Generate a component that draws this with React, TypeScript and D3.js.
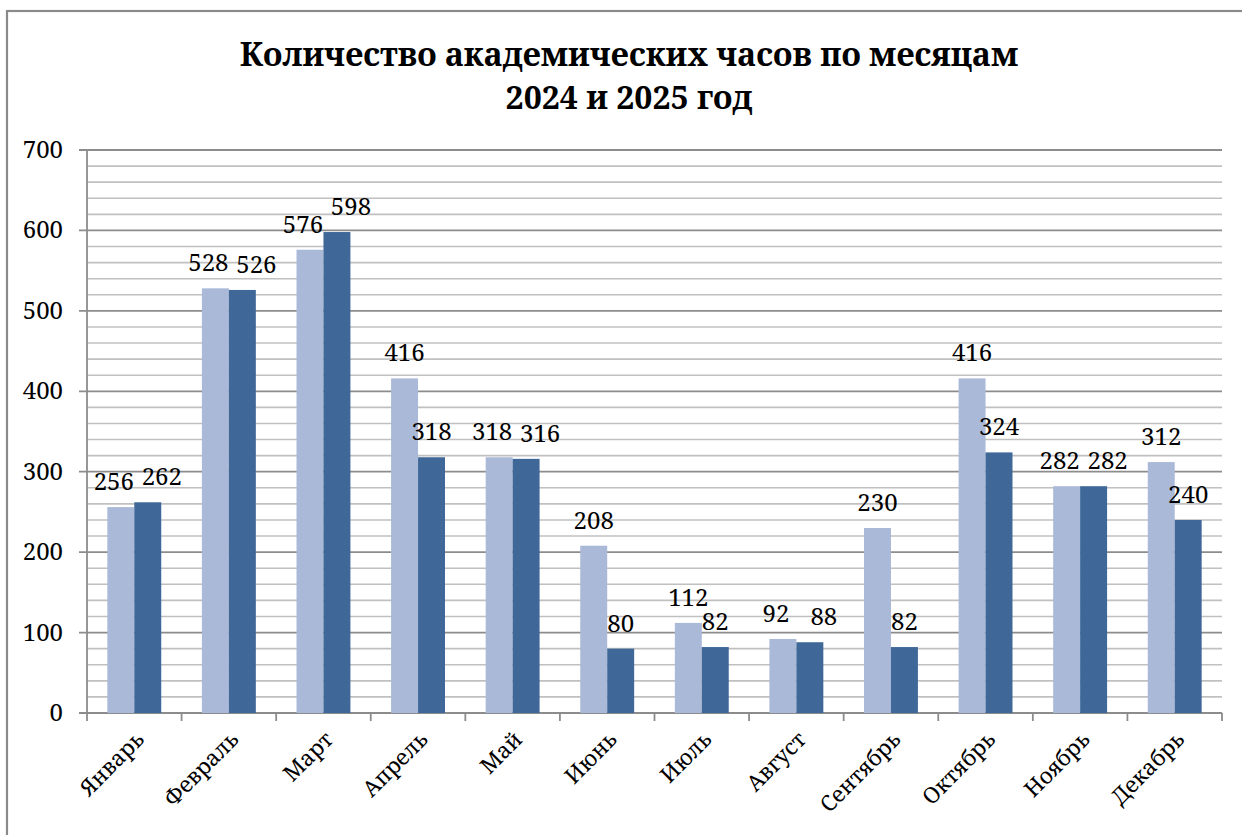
import React from "react";
import * as d3 from "d3";

const months = ["Январь", "Февраль", "Март", "Апрель", "Май", "Июнь", "Июль", "Август", "Сентябрь", "Октябрь", "Ноябрь", "Декабрь"];
const values2024 = [256, 528, 576, 416, 318, 208, 112, 92, 230, 416, 282, 312];
const values2025 = [262, 526, 598, 318, 316, 80, 82, 88, 82, 324, 282, 240];
const yTicks = [0, 100, 200, 300, 400, 500, 600, 700];
const titleLines = ["Количество академических часов по месяцам", "2024 и 2025 год"];

const W = 1242;
const H = 835;
const plot = { left: 87, right: 1222, top: 150, bottom: 713 };
const colors = { light: "#AAB9D8", dark: "#3F6899" };
const FONT = "Noto Serif, DejaVu Serif, serif";

export default function App() {
  const x = d3.scaleBand().domain(months).range([plot.left, plot.right]).paddingInner(0).paddingOuter(0);
  const bw = x.bandwidth();
  const groupPad = bw * 0.215;
  const inner = d3.scaleBand().domain(["a", "b"]).range([groupPad, bw - groupPad]).padding(0);
  const y = d3.scaleLinear().domain([0, 700]).range([plot.bottom, plot.top]);
  const minor = d3.range(0, 701, 20).filter((v) => v % 100 !== 0);
  const boundaries = d3.range(0, months.length + 1).map((i) => plot.left + i * bw);

  return (
    <svg width={W} height={H} style={{ position: "absolute", left: 0, top: 0, background: "#fff" }}>
      <rect x={7} y={11} width={1240} height={900} fill="#fff" stroke="#8a8a8a" strokeWidth={2.2} />
      {titleLines.map((t, i) => (
        <text key={i} x={629} y={66 + i * 43} textAnchor="middle" fontFamily={FONT} fontWeight="bold" fontSize={32} fill="#000">
          {t}
        </text>
      ))}
      {minor.map((v) => (
        <line key={"m" + v} x1={plot.left} x2={plot.right} y1={y(v)} y2={y(v)} stroke="#c0c0c0" strokeWidth={1.6} />
      ))}
      {yTicks.map((v) => (
        <g key={"g" + v}>
          <line x1={plot.left - 8} x2={plot.right} y1={y(v)} y2={y(v)} stroke="#8c8c8c" strokeWidth={1.8} />
          <text x={63} y={y(v) + 8} textAnchor="end" fontFamily={FONT} fontSize={24} fill="#000">
            {v}
          </text>
        </g>
      ))}
      <line x1={plot.left} x2={plot.left} y1={plot.top} y2={plot.bottom} stroke="#8c8c8c" strokeWidth={1.8} />
      {boundaries.map((bx, i) => (
        <line key={"b" + i} x1={bx} x2={bx} y1={plot.bottom} y2={plot.bottom + 8} stroke="#8c8c8c" strokeWidth={1.8} />
      ))}
      {months.map((m, i) => {
        const x0 = x(m);
        const v1 = values2024[i];
        const v2 = values2025[i];
        const close = Math.abs(y(v1) - y(v2)) < 24;
        const off1 = close ? -7 : 0;
        const off2 = close ? 14 : 0;
        const xa = x0 + inner("a");
        const xb = x0 + inner("b");
        const iw = inner.bandwidth();
        return (
          <g key={m}>
            <rect x={xa} y={y(v1)} width={iw} height={plot.bottom - y(v1)} fill={colors.light} />
            <rect x={xb} y={y(v2)} width={iw} height={plot.bottom - y(v2)} fill={colors.dark} />
            <text x={xa + iw / 2 + off1} y={y(v1) - 17} textAnchor="middle" fontFamily={FONT} fontSize={24} fill="#000">
              {v1}
            </text>
            <text x={xb + iw / 2 + off2} y={y(v2) - 17} textAnchor="middle" fontFamily={FONT} fontSize={24} fill="#000">
              {v2}
            </text>
            <text
              transform={`translate(${x0 + bw / 2 + 11},${plot.bottom + 28}) rotate(-45)`}
              textAnchor="end"
              fontFamily={FONT}
              fontSize={22}
              fill="#000"
            >
              {m}
            </text>
          </g>
        );
      })}
    </svg>
  );
}
